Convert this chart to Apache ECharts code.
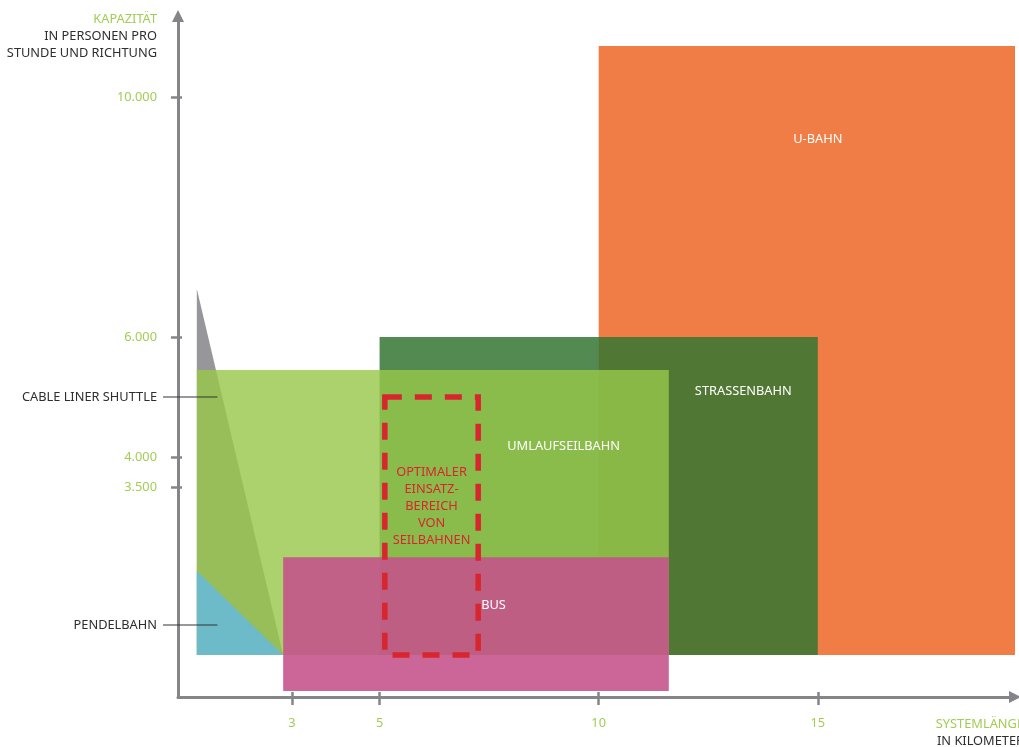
<!DOCTYPE html>
<html>
<head>
<meta charset="utf-8">
<script src="https://cdn.jsdelivr.net/npm/echarts@6/dist/echarts.min.js"></script>
<style>
  html, body { margin: 0; padding: 0; background: #ffffff; }
  #chart { width: 1019px; height: 747px; }
</style>
</head>
<body>
<div id="chart"></div>
<script>
// Axis ticks
const xTicks = [3, 5, 10, 15];
const yTicks = [3500, 4000, 6000, 10000];

// Transport systems: range of system length (km) and capacity (persons per hour and direction)
const systems = ['U-BAHN', 'STRASSENBAHN', 'UMLAUFSEILBAHN', 'BUS'];
const lengthFrom = [10, 5, 0.83, 2.8];
const lengthTo = [19.5, 15, 11.6, 11.6];
const capacityFrom = [700, 700, 700, 100];
const capacityTo = [10850, 6000, 5450, 2330];

// Label anchors of the systems
const labelLength = [15, 13.3, 9.2, 7.6];
const labelCapacity = [9300, 5100, 4180, 1530];

// Short-range wedges (start length, end length, capacity at start, base capacity)
const wedges = ['CABLE LINER SHUTTLE', 'PENDELBAHN'];
const wedgeLengthFrom = [0.83, 0.83];
const wedgeLengthTo = [2.8, 2.8];
const wedgeCapacityTop = [6800, 2100];
const wedgeCapacityBase = [700, 700];
// Leader lines of the wedge labels
const wedgeLeaderLength = [1.3, 1.3];
const wedgeLeaderCapacity = [5000, 1200];

// Optimal range of ropeways
const optimalLength = [5.12, 7.25];
const optimalCapacity = [700, 5000];
const optimalText = ['OPTIMALER', 'EINSATZ-', 'BEREICH', 'VON', 'SEILBAHNEN'];

const FONT = '"Noto Sans", "Open Sans", sans-serif';
const FS = '12.8px ';
const GREEN_TEXT = '#a3cc55';
const DARK_TEXT = '#2e2e2e';
const AXIS_GREY = '#858589';
const X_MIN = 0.4, X_MAX = 19.5;

const systemStyle = {
  'U-BAHN': { fill: '#ef7d45', opacity: 1, z: 1 },
  'STRASSENBAHN': { fill: '#357633', opacity: 0.85, z: 2 },
  'UMLAUFSEILBAHN': { fill: '#97c74a', opacity: 0.81, z: 4 },
  'BUS': { fill: '#c5518b', opacity: 0.88, z: 6 }
};
const wedgeStyle = {
  'CABLE LINER SHUTTLE': { fill: '#97979b', opacity: 1, z: 3 },
  'PENDELBAHN': { fill: '#6dbac8', opacity: 1, z: 5 }
};

function fmt(v) {
  return String(v).replace(/\B(?=(\d{3})+(?!\d))/g, '.');
}

function rectRenderer(style) {
  return function (params, api) {
    const a = api.coord([api.value(0), api.value(3)]);
    const b = api.coord([api.value(1), api.value(2)]);
    return {
      type: 'rect',
      shape: { x: a[0], y: a[1], width: b[0] - a[0], height: b[1] - a[1] },
      style: { fill: style.fill, opacity: style.opacity }
    };
  };
}

function wedgeRenderer(style) {
  return function (params, api) {
    const top = api.coord([api.value(0), api.value(2)]);
    const baseL = api.coord([api.value(0), api.value(3)]);
    const baseR = api.coord([api.value(1), api.value(3)]);
    return {
      type: 'polygon',
      shape: { points: [top, baseL, baseR] },
      style: { fill: style.fill, opacity: style.opacity }
    };
  };
}

const series = [];

systems.forEach(function (name, i) {
  const st = systemStyle[name];
  series.push({
    type: 'custom', name: name, z: st.z, silent: true,
    renderItem: rectRenderer(st),
    data: [[lengthFrom[i], lengthTo[i], capacityFrom[i], capacityTo[i]]]
  });
});

wedges.forEach(function (name, i) {
  const st = wedgeStyle[name];
  series.push({
    type: 'custom', name: name, z: st.z, silent: true,
    renderItem: wedgeRenderer(st),
    data: [[wedgeLengthFrom[i], wedgeLengthTo[i], wedgeCapacityTop[i], wedgeCapacityBase[i]]]
  });
});

// Dashed frame of the optimal ropeway range
series.push({
  type: 'custom', name: 'optimal', z: 7, silent: true,
  renderItem: function (params, api) {
    const a = api.coord([api.value(0), api.value(3)]);
    const b = api.coord([api.value(1), api.value(2)]);
    const c = api.coord([(api.value(0) + api.value(1)) / 2, api.value(4)]);
    return {
      type: 'group',
      children: [{
        type: 'rect',
        shape: { x: a[0], y: a[1], width: b[0] - a[0], height: b[1] - a[1] },
        style: { fill: 'none', stroke: '#d7262e', lineWidth: 5.5, lineDash: [17, 13], lineCap: 'butt' }
      }, {
        type: 'text',
        x: c[0], y: c[1],
        style: {
          text: optimalText.join('\n'), fill: '#d7262e', font: FS + FONT,
          lineHeight: 17, align: 'center', verticalAlign: 'middle',
          textAlign: 'center', textVerticalAlign: 'middle'
        }
      }]
    };
  },
  data: [[optimalLength[0], optimalLength[1], optimalCapacity[0], optimalCapacity[1], 3170]]
});

// System names
series.push({
  type: 'custom', name: 'labels', z: 8, silent: true,
  renderItem: function (params, api) {
    const p = api.coord([api.value(0), api.value(1)]);
    return {
      type: 'text', x: p[0], y: p[1],
      style: {
        text: systems[params.dataIndex], fill: '#ffffff', font: FS + FONT,
        align: 'center', verticalAlign: 'middle', textAlign: 'center', textVerticalAlign: 'middle'
      }
    };
  },
  data: labelLength.map(function (x, i) { return [x, labelCapacity[i]]; })
});

// Wedge names with leader lines left of the capacity axis
series.push({
  type: 'custom', name: 'wedgeLabels', z: 8, silent: true, clip: false,
  renderItem: function (params, api) {
    const end = api.coord([api.value(0), api.value(1)]);
    const startX = params.coordSys.x - 15;
    return {
      type: 'group',
      children: [{
        type: 'line',
        shape: { x1: startX, y1: end[1], x2: end[0], y2: end[1] },
        style: { stroke: '#333333', lineWidth: 1 }
      }, {
        type: 'text', x: startX - 6, y: end[1],
        style: {
          text: wedges[params.dataIndex], fill: DARK_TEXT, font: FS + FONT,
          align: 'right', verticalAlign: 'middle', textAlign: 'right', textVerticalAlign: 'middle'
        }
      }]
    };
  },
  data: wedgeLeaderLength.map(function (x, i) { return [x, wedgeLeaderCapacity[i]]; })
});

const chart = echarts.init(document.getElementById('chart'), null, { renderer: 'canvas' });

chart.setOption({
  animation: false,
  backgroundColor: '#ffffff',
  grid: { left: 178, right: 4, top: 16, bottom: 50, containLabel: false },
  xAxis: [{
    type: 'value', min: X_MIN, max: X_MAX, position: 'bottom',
    splitLine: { show: false },
    axisLine: { show: true, lineStyle: { color: AXIS_GREY, width: 3 }, symbol: ['none', 'triangle'], symbolSize: [12, 12] },
    axisTick: { show: true, customValues: xTicks, length: 8, lineStyle: { color: AXIS_GREY, width: 2.5 } },
    axisLabel: {
      show: true, customValues: xTicks, margin: 20, color: GREEN_TEXT, fontSize: 12.8, fontFamily: FONT,
      formatter: function (v) { return String(v); }
    }
  }, {
    type: 'value', min: X_MIN, max: X_MAX, position: 'bottom', offset: 0,
    splitLine: { show: false }, axisLine: { show: false }, axisLabel: { show: false },
    axisTick: { show: true, inside: true, customValues: xTicks, length: 5, lineStyle: { color: AXIS_GREY, width: 2.5 } }
  }],
  yAxis: [{
    type: 'value', min: 0, max: 11350, position: 'left',
    splitLine: { show: false },
    axisLine: { show: true, lineStyle: { color: AXIS_GREY, width: 3 }, symbol: ['none', 'triangle'], symbolSize: [12, 12] },
    axisTick: { show: true, customValues: yTicks, length: 7, lineStyle: { color: AXIS_GREY, width: 2.5 } },
    axisLabel: {
      show: true, customValues: yTicks, margin: 21, color: GREEN_TEXT, fontSize: 12.8, fontFamily: FONT,
      formatter: fmt
    }
  }, {
    type: 'value', min: 0, max: 11350, position: 'left', offset: 0,
    splitLine: { show: false }, axisLine: { show: false }, axisLabel: { show: false },
    axisTick: { show: true, inside: true, customValues: yTicks, length: 4, lineStyle: { color: AXIS_GREY, width: 2.5 } }
  }],
  graphic: [{
    type: 'text', x: 157, y: 11,
    style: {
      text: '{g|KAPAZITÄT}\n{d|IN PERSONEN PRO}\n{d|STUNDE UND RICHTUNG}',
      align: 'right', textAlign: 'right', verticalAlign: 'top', textVerticalAlign: 'top',
      font: FS + FONT,
      rich: {
        g: { fill: GREEN_TEXT, color: GREEN_TEXT, font: FS + FONT, lineHeight: 17, align: 'right' },
        d: { fill: DARK_TEXT, color: DARK_TEXT, font: FS + FONT, lineHeight: 17, align: 'right' }
      }
    }
  }, {
    type: 'text', x: 1024, y: 716,
    style: {
      text: '{g|SYSTEMLÄNGE}\n{d|IN KILOMETER}',
      align: 'right', textAlign: 'right', verticalAlign: 'top', textVerticalAlign: 'top',
      font: FS + FONT,
      rich: {
        g: { fill: GREEN_TEXT, color: GREEN_TEXT, font: FS + FONT, lineHeight: 17, align: 'right' },
        d: { fill: DARK_TEXT, color: DARK_TEXT, font: FS + FONT, lineHeight: 17, align: 'right' }
      }
    }
  }],
  series: series
});
</script>
</body>
</html>
